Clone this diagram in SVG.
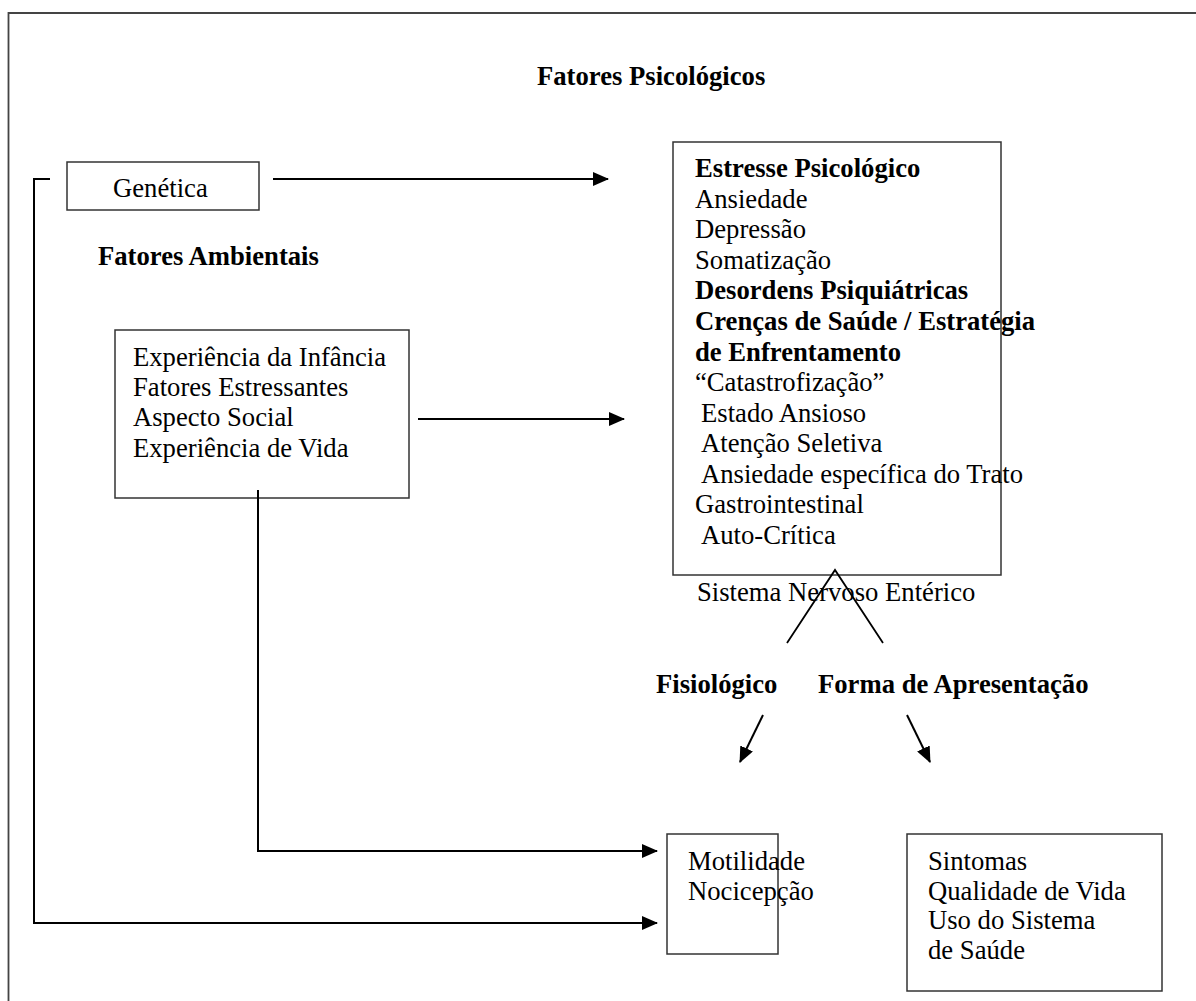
<svg xmlns="http://www.w3.org/2000/svg" width="1196" height="1001" viewBox="0 0 1196 1001">
<style>
text{font-family:"Liberation Serif","Times New Roman",serif;font-size:26.67px;fill:#000}
.b{font-weight:bold}
.box{fill:none;stroke:#333;stroke-width:1.5}
.ln{fill:none;stroke:#000;stroke-width:2}
.frame{fill:none;stroke:#444;stroke-width:1.8}
</style>
<defs>
<marker id="ah" markerUnits="userSpaceOnUse" markerWidth="16" markerHeight="14" refX="15" refY="7" orient="auto">
<path d="M0,0 L16,7 L0,14 Z" fill="#000"/>
</marker>
</defs>
<rect width="1196" height="1001" fill="#fff"/>
<path class="frame" d="M8.5,1001 V13 H1196"/>
<text class="b" x="537" y="85">Fatores Psicológicos</text>
<text class="b" x="98" y="265">Fatores Ambientais</text>
<g id="genetica">
<rect class="box" x="67" y="162" width="192" height="48"/>
<text x="113" y="197">Genética</text>
</g>
<g id="ambientais">
<rect class="box" x="115" y="330" width="294" height="168"/>
<text x="133" y="366">Experiência da Infância</text>
<text x="133" y="396">Fatores Estressantes</text>
<text x="133" y="426">Aspecto Social</text>
<text x="133" y="457">Experiência de Vida</text>
</g>
<g id="psicologicos">
<rect class="box" x="673" y="142" width="328" height="433"/>
<text class="b" x="695" y="177">Estresse Psicológico</text>
<text x="695" y="208">Ansiedade</text>
<text x="695" y="238">Depressão</text>
<text x="695" y="269">Somatização</text>
<text class="b" x="695" y="299">Desordens Psiquiátricas</text>
<text class="b" x="695" y="330">Crenças de Saúde / Estratégia</text>
<text class="b" x="695" y="361">de Enfrentamento</text>
<text x="695" y="391">“Catastrofização”</text>
<text x="701" y="422">Estado Ansioso</text>
<text x="701" y="452">Atenção Seletiva</text>
<text x="701" y="483">Ansiedade específica do Trato</text>
<text x="695" y="513">Gastrointestinal</text>
<text x="701" y="544">Auto-Crítica</text>
</g>
<g id="sne">
<text x="697" y="601">Sistema Nervoso Entérico</text>
</g>
<g id="fisiologico">
<text class="b" x="656" y="693">Fisiológico</text>
</g>
<g id="forma">
<text class="b" x="818" y="693">Forma de Apresentação</text>
</g>
<g id="motilidade">
<rect class="box" x="667" y="834" width="111" height="120"/>
<text x="688" y="870">Motilidade</text>
<text x="688" y="900">Nocicepção</text>
</g>
<g id="sintomas">
<rect class="box" x="907" y="834" width="255" height="157"/>
<text x="928" y="870">Sintomas</text>
<text x="928" y="900">Qualidade de Vida</text>
<text x="928" y="929">Uso do Sistema</text>
<text x="928" y="959">de Saúde</text>
</g>
<g id="connectors">
<path class="ln" d="M50,179 H34 V923 H657" marker-end="url(#ah)"/>
<path class="ln" d="M273,179 H608" marker-end="url(#ah)"/>
<path class="ln" d="M418,419 H624" marker-end="url(#ah)"/>
<path class="ln" d="M258,490 V851 H657" marker-end="url(#ah)"/>
<path class="ln" d="M787,643 L835,570 L883,643" style="stroke-width:1.8"/>
<path class="ln" d="M763,715 L740,762" marker-end="url(#ah)"/>
<path class="ln" d="M907,715 L930,762" marker-end="url(#ah)"/>
</g>
</svg>
